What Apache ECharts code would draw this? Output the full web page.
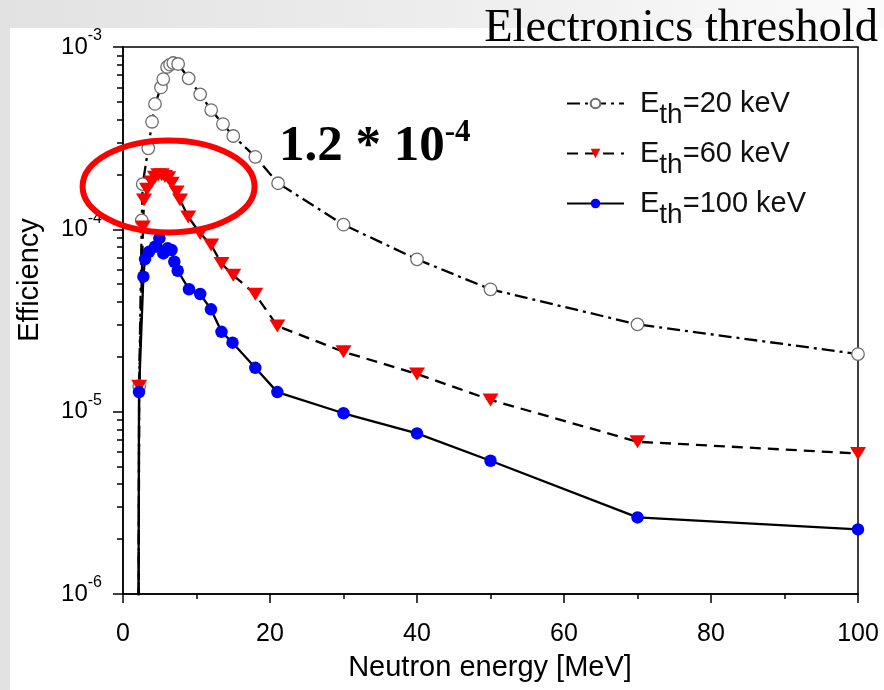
<!DOCTYPE html>
<html>
<head>
<meta charset="utf-8">
<script src="https://cdn.jsdelivr.net/npm/echarts@6/dist/echarts.min.js"></script>
<style>
    html, body { margin: 0; padding: 0; }
    body { width: 884px; height: 690px; position: relative; overflow: hidden;
        background: linear-gradient(90deg, #e2e2e2 0%, #ececec 45%, #fbfbfb 100%); }
    #paper { position: absolute; left: 10px; top: 28px; width: 874px; height: 662px; background: #fff; }
    #main { position: absolute; left: 0; top: 0; width: 884px; height: 690px; }
</style>
</head>
<body>
<div id="paper"></div>
<div id="main"></div>
<script>
// first point of each curve sits below 1e-6 (off scale)
const energy20 = [2.0, 2.2, 2.55, 2.68, 3.44, 3.95, 4.35, 5.17, 5.48, 6.0, 6.4, 6.84, 7.5, 8.93, 10.5, 12.0, 13.6, 15.0, 18.0, 21.1, 30, 40, 50, 70, 100];
const eff20 = [1e-8, 1.38e-5, 1.12e-4, 1.77e-4, 2.78e-4, 3.89e-4, 4.87e-4, 6.0e-4, 6.67e-4, 7.77e-4, 8.0e-4, 8.17e-4, 8.07e-4, 6.73e-4, 5.5e-4, 4.51e-4, 3.78e-4, 3.25e-4, 2.5e-4, 1.79e-4, 1.06e-4, 6.85e-5, 4.69e-5, 3.01e-5, 2.07e-5];

const energy60 = [2.0, 2.2, 2.72, 2.86, 3.27, 3.9, 4.35, 4.8, 5.27, 5.71, 6.16, 6.63, 7.3, 7.76, 8.88, 10.5, 12.0, 13.4, 15.0, 18.0, 21.0, 30, 40, 50, 70, 100];
const eff60 = [1e-8, 1.38e-5, 1.03e-4, 1.45e-4, 1.66e-4, 1.82e-4, 1.93e-4, 1.99e-4, 1.99e-4, 1.95e-4, 1.92e-4, 1.79e-4, 1.6e-4, 1.45e-4, 1.17e-4, 9.5e-5, 8.2e-5, 6.5e-5, 5.6e-5, 4.4e-5, 2.95e-5, 2.13e-5, 1.61e-5, 1.16e-5, 6.84e-6, 5.9e-6];

const energy100 = [2.0, 2.18, 2.77, 3.0, 3.54, 4.35, 4.95, 5.49, 6.08, 6.6, 6.98, 7.44, 8.98, 10.5, 11.97, 13.4, 14.9, 18.0, 21.0, 30, 40, 50, 70, 100];
const eff100 = [1e-8, 1.28e-5, 5.5e-5, 6.87e-5, 7.53e-5, 8.03e-5, 8.93e-5, 7.38e-5, 7.87e-5, 7.7e-5, 6.64e-5, 5.93e-5, 4.69e-5, 4.42e-5, 3.64e-5, 2.74e-5, 2.39e-5, 1.74e-5, 1.28e-5, 9.8e-6, 7.6e-6, 5.38e-6, 2.63e-6, 2.26e-6];

const seriesNames = ['Eth=20 keV', 'Eth=60 keV', 'Eth=100 keV'];
const yMajorTicks = [1e-6, 1e-5, 1e-4, 1e-3];
const yMinorTicks = [];
[1e-6, 1e-5, 1e-4].forEach(d => {
    for (let k = 2; k <= 9; k++) yMinorTicks.push(k * d);
});

const SANS = '"Liberation Sans", Arial, sans-serif';
const SERIF = '"Liberation Serif", "Times New Roman", serif';

function pairs(xs, ys) {
    return xs.map((x, i) => [x, ys[i]]);
}

const chart = echarts.init(document.getElementById('main'), null, { renderer: 'canvas' });

const option = {
    backgroundColor: 'transparent',
    animation: false,
    grid: {
        left: 123, right: 26, top: 47, bottom: 96,
        show: true, borderColor: '#000', borderWidth: 1.5,
        containLabel: false, outerBoundsMode: 'none'
    },
    legend: {
        orient: 'vertical',
        left: 561, top: 84,
        itemWidth: 57, itemHeight: 12, itemGap: 9.5,
        data: seriesNames,
        formatter: name => '{p|E}{s|th}{e|' + name.slice(3) + '}',
        textStyle: {
            color: '#111',
            rich: {
                p: { fontFamily: SANS, fontSize: 29, lineHeight: 52, color: '#111', padding: [0, 0, 0, 11] },
                e: { fontFamily: SANS, fontSize: 29, lineHeight: 52, color: '#111' },
                s: { fontFamily: SANS, fontSize: 28, lineHeight: 26, color: '#111', verticalAlign: 'bottom' }
            }
        }
    },
    xAxis: {
        type: 'value', min: 0, max: 100, interval: 20,
        axisLine: { show: true, lineStyle: { color: '#000', width: 1.5 } },
        axisTick: { show: true, length: 9, lineStyle: { color: '#000', width: 1.5 } },
        minorTick: { show: true, splitNumber: 2, length: 5, lineStyle: { color: '#000', width: 1.5 } },
        splitLine: { show: false },
        axisLabel: { color: '#000', fontFamily: SANS, fontSize: 25, margin: 28 }
    },
    yAxis: [{
        type: 'log', logBase: 10, min: 1e-6, max: 1e-3,
        axisLine: { show: true, lineStyle: { color: '#000', width: 1.5 } },
        axisTick: { show: true, length: 10, customValues: yMajorTicks, lineStyle: { color: '#000', width: 1.5 } },
        splitLine: { show: false },
        axisLabel: {
            customValues: yMajorTicks,
            margin: 21,
            formatter: v => '{b|10}{s|' + Math.round(Math.log10(v)) + '}',
            rich: {
                b: { fontFamily: SANS, fontSize: 24, lineHeight: 38, color: '#000' },
                s: { fontFamily: SANS, fontSize: 16, lineHeight: 18, color: '#000', verticalAlign: 'top' }
            }
        }
    }, {
        type: 'log', logBase: 10, min: 1e-6, max: 1e-3, position: 'left', offset: 0,
        axisLine: { show: false },
        axisTick: { show: true, length: 6, customValues: yMinorTicks, lineStyle: { color: '#000', width: 1.5 } },
        axisLabel: { show: false },
        splitLine: { show: false }
    }],
    series: [{
        name: seriesNames[0], type: 'line', yAxisIndex: 0,
        data: pairs(energy20, eff20),
        symbol: 'circle', symbolSize: 12.5,
        itemStyle: { color: '#fff', borderColor: '#6e6e6e', borderWidth: 1.3 },
        lineStyle: { color: '#000', width: 2.3, type: [13, 5, 3, 5] },
        clip: true
    }, {
        name: seriesNames[1], type: 'line', yAxisIndex: 0,
        data: pairs(energy60, eff60),
        symbol: 'triangle', symbolRotate: 180, symbolSize: [16, 13],
        itemStyle: { color: '#ff0000', borderWidth: 0 },
        lineStyle: { color: '#000', width: 2.3, type: [11, 7] },
        clip: true
    }, {
        name: seriesNames[2], type: 'line', yAxisIndex: 0,
        data: pairs(energy100, eff100),
        symbol: 'circle', symbolSize: 12.5,
        itemStyle: { color: '#0000ff', borderWidth: 0 },
        lineStyle: { color: '#000', width: 2.3, type: 'solid' },
        clip: true
    }]
};

chart.setOption(option);

// annotations placed after the scales exist
const ringCenter = chart.convertToPixel({ gridIndex: 0 }, [6.2, 1.72e-4]);

chart.setOption({
    graphic: [{
        type: 'text', left: 'auto', right: 6, top: 5,
        style: { text: 'Electronics threshold', font: '46.5px ' + SERIF, fill: '#000' }
    }, {
        type: 'text', x: 30, y: 280, rotation: Math.PI / 2,
        style: { text: 'Efficiency', font: '29px ' + SANS, fill: '#000', align: 'center', verticalAlign: 'middle' }
    }, {
        type: 'text', x: 490, y: 668,
        style: { text: 'Neutron energy [MeV]', font: '29px ' + SANS, fill: '#000', align: 'center', verticalAlign: 'middle' }
    }, {
        type: 'ellipse', z: 100,
        shape: { cx: ringCenter[0], cy: ringCenter[1], rx: 86, ry: 46 },
        style: { fill: 'none', stroke: '#ff0000', lineWidth: 6 }
    }, {
        type: 'text', x: 279, y: 147, z: 100,
        style: {
            text: '{a|1.2 * 10}{b|-4}',
            verticalAlign: 'middle',
            rich: {
                a: { fontFamily: SERIF, fontWeight: 'bold', fontSize: 51, lineHeight: 60, color: '#ff0000' },
                b: { fontFamily: SERIF, fontWeight: 'bold', fontSize: 31, lineHeight: 34, color: '#ff0000', verticalAlign: 'top' }
            }
        }
    }]
});
</script>
</body>
</html>
